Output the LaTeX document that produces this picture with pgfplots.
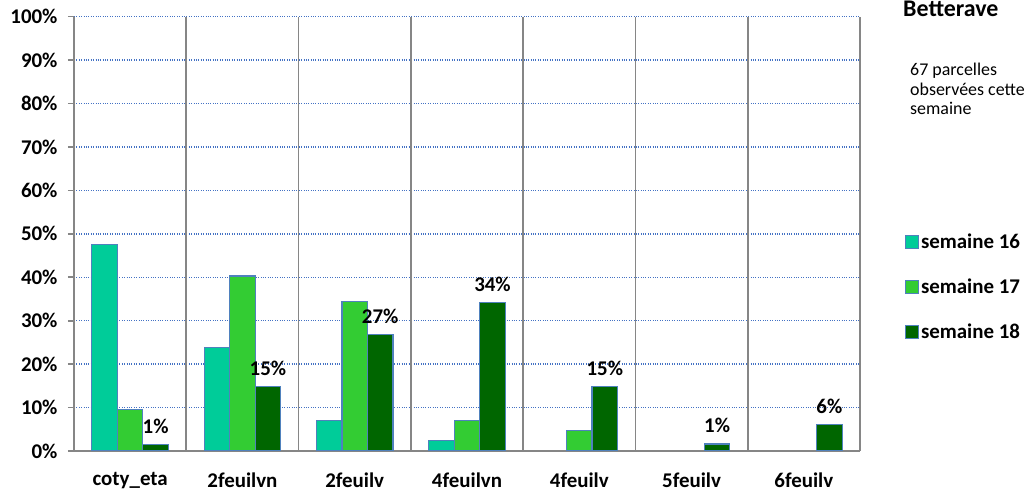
\documentclass[border=0pt]{standalone}
\usepackage{pgfplots}
\pgfplotsset{compat=1.18}
\usepackage{fontspec}
\setmainfont{Carlito}
\definecolor{sA}{RGB}{0,204,153}
\definecolor{sB}{RGB}{51,204,51}
\definecolor{sC}{RGB}{0,102,0}
\definecolor{edge}{RGB}{79,129,189}
\definecolor{gridblue}{RGB}{68,114,196}
\definecolor{axgray}{RGB}{134,134,134}
\begin{document}
\begin{tikzpicture}
\useasboundingbox (0,0) rectangle (1027bp,491bp);
\begin{axis}[
  at={(74bp,40bp)}, anchor=south west,
  scale only axis, width=786bp, height=434.3bp,
  xmin=-0.5, xmax=6.5, ymin=0, ymax=100,
  axis x line*=bottom, axis y line*=left,
  axis line style={axgray, line width=1.6bp},
  ybar=0pt, bar width=25.5bp,
  xtick={0,...,6},
  xticklabels={coty\_eta,2feuilvn,2feuilv,4feuilvn,4feuilv,5feuilv,6feuilv},
  major x tick style={draw=none},
  extra x ticks={-0.5,0.5,1.5,2.5,3.5,4.5,5.5,6.5},
  extra x tick labels={},
  x grid style={axgray, line width=1.6bp, solid},
  extra x tick style={grid=major,
     major tick length=6bp, tick align=outside, tick style={axgray, line width=1.6bp, draw=axgray}},
  ytick={0,10,...,100},
  ymajorgrids, y grid style={gridblue, dotted, line width=1.4bp},
  /pgf/number format/assume math mode=true,
  yticklabel={\textbf{\pgfmathprintnumber{\tick}\%}},
  y tick label style={font=\fontsize{21}{24}\selectfont, xshift=-7bp},
  y tick style={axgray, line width=1.6bp},
  tick align=outside, major tick length=6bp,
  x tick label style={font=\bfseries\fontsize{21}{24}\selectfont, yshift=-12bp},
  legend style={at={(1.057,0.505)}, anchor=north west, draw=none, fill=none,
     font=\bfseries\fontsize{21}{24}\selectfont, row sep=25bp, inner sep=0pt,
     cells={anchor=west}},
]
\addplot[fill=sA, draw=edge, line width=1.2bp,
  legend image code/.code={\draw[fill=sA, draw=edge, line width=1bp] (0bp,-6.5bp) rectangle (13bp,6.5bp);}]
  coordinates {(0,47.6) (1,23.9) (2,7.1) (3,2.5)};
\addlegendentry{semaine 16}
\addplot[fill=sB, draw=edge, line width=1.2bp,
  legend image code/.code={\draw[fill=sB, draw=edge, line width=1bp] (0bp,-6.5bp) rectangle (13bp,6.5bp);}]
  coordinates {(0,9.6) (1,40.3) (2,34.5) (3,7.1) (4,4.8)};
\addlegendentry{semaine 17}
\addplot[fill=sC, draw=edge, line width=1.2bp,
  nodes near coords, point meta=explicit symbolic,
  nodes near coords style={font=\bfseries\fontsize{21}{24}\selectfont, yshift=7bp, black},
  legend image code/.code={\draw[fill=sC, draw=edge, line width=1bp] (0bp,-6.5bp) rectangle (13bp,6.5bp);}]
  coordinates {(0,1.5) [1\%] (1,14.8) [15\%] (2,26.9) [27\%] (3,34.2) [34\%] (4,14.8) [15\%] (5,1.6) [1\%] (6,6.1) [6\%]};
\addlegendentry{semaine 18}
\end{axis}
\node[anchor=base west, font=\bfseries\fontsize{24}{26}\selectfont, inner sep=0pt] at (903bp,474bp) {Betterave};
\node[anchor=base west, align=left, font=\fontsize{18}{20}\selectfont, inner sep=0pt] at (910bp,376bp) {67 parcelles\\observées cette\\semaine};
\end{tikzpicture}
\end{document}
